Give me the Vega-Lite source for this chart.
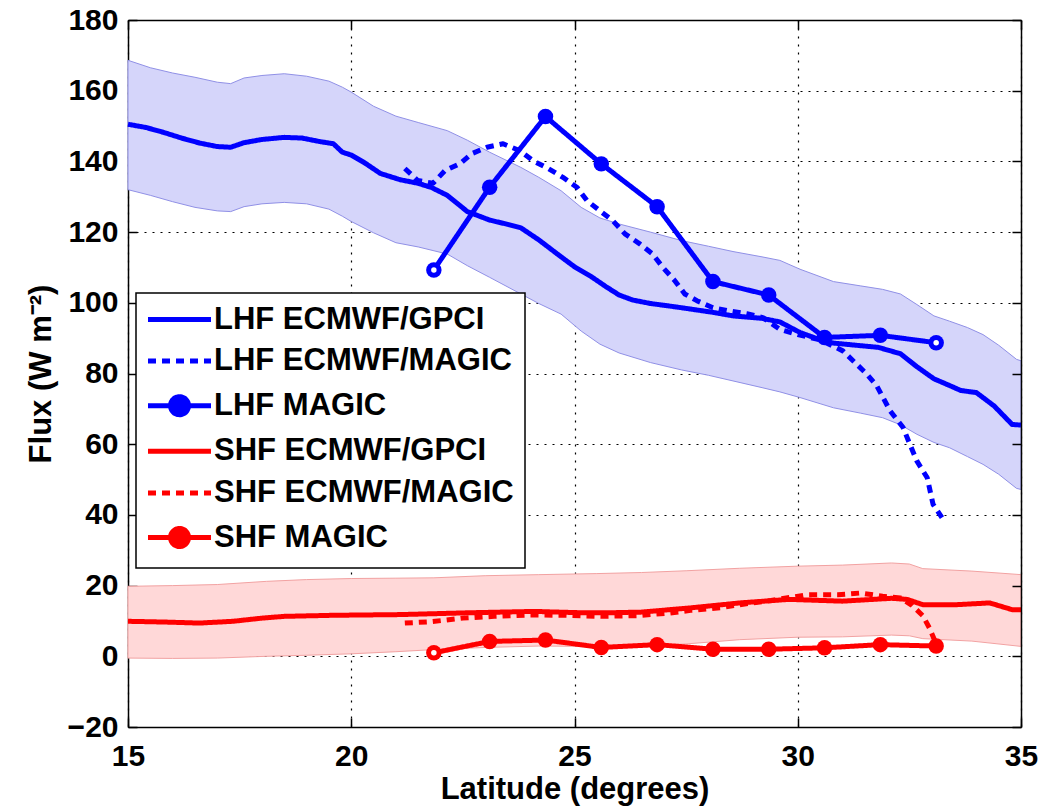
{
  "$schema": "https://vega.github.io/schema/vega-lite/v6.json",
  "width": 893,
  "height": 707,
  "autosize": {"type": "none"},
  "padding": {"left": 128, "top": 20, "right": 22, "bottom": 81},
  "background": "white",
  "config": {
    "view": {"stroke": null},
    "font": "Liberation Sans",
    "axis": {
      "domainColor": "black",
      "domainWidth": 1.5,
      "tickColor": "black",
      "tickWidth": 1.5,
      "tickSize": -9,
      "labelFont": "Liberation Sans",
      "labelFontWeight": "bold",
      "labelFontSize": 30,
      "labelColor": "black",
      "titleFont": "Liberation Sans",
      "titleFontWeight": "bold",
      "titleFontSize": 31,
      "titleColor": "black",
      "gridColor": "black",
      "gridDash": [2, 6],
      "gridWidth": 1.2,
      "gridOpacity": 1,
      "labelOverlap": false,
      "labelFlush": false
    }
  },
  "datasets": {
    "band": [
      {"quantity": "LHF", "lat": 15.0, "lo": 132.0, "hi": 168.6},
      {"quantity": "LHF", "lat": 15.5, "lo": 130.4, "hi": 166.5},
      {"quantity": "LHF", "lat": 16.0, "lo": 128.6, "hi": 165.0},
      {"quantity": "LHF", "lat": 16.5, "lo": 127.0, "hi": 163.8},
      {"quantity": "LHF", "lat": 17.0, "lo": 126.0, "hi": 162.4},
      {"quantity": "LHF", "lat": 17.3, "lo": 125.8, "hi": 162.0},
      {"quantity": "LHF", "lat": 17.6, "lo": 127.2, "hi": 163.6},
      {"quantity": "LHF", "lat": 18.0, "lo": 128.0, "hi": 164.3},
      {"quantity": "LHF", "lat": 18.5, "lo": 128.4, "hi": 164.8},
      {"quantity": "LHF", "lat": 19.0, "lo": 128.0, "hi": 164.1},
      {"quantity": "LHF", "lat": 19.5, "lo": 126.5, "hi": 162.7},
      {"quantity": "LHF", "lat": 19.8, "lo": 124.5, "hi": 161.0},
      {"quantity": "LHF", "lat": 20.0, "lo": 123.0, "hi": 159.6},
      {"quantity": "LHF", "lat": 20.5, "lo": 119.8, "hi": 155.6},
      {"quantity": "LHF", "lat": 21.0, "lo": 117.0, "hi": 152.8},
      {"quantity": "LHF", "lat": 21.5, "lo": 115.8, "hi": 151.0},
      {"quantity": "LHF", "lat": 22.15, "lo": 113.8, "hi": 148.7},
      {"quantity": "LHF", "lat": 22.6, "lo": 110.5, "hi": 146.0},
      {"quantity": "LHF", "lat": 23.1, "lo": 107.2, "hi": 142.6},
      {"quantity": "LHF", "lat": 23.8, "lo": 102.5, "hi": 138.3},
      {"quantity": "LHF", "lat": 24.2, "lo": 99.8, "hi": 135.5},
      {"quantity": "LHF", "lat": 24.7, "lo": 96.8, "hi": 131.7},
      {"quantity": "LHF", "lat": 25.15, "lo": 92.0, "hi": 127.0},
      {"quantity": "LHF", "lat": 25.57, "lo": 88.3, "hi": 124.0},
      {"quantity": "LHF", "lat": 26.0, "lo": 85.8, "hi": 122.3},
      {"quantity": "LHF", "lat": 26.7, "lo": 83.1, "hi": 120.0},
      {"quantity": "LHF", "lat": 27.4, "lo": 81.0, "hi": 117.6},
      {"quantity": "LHF", "lat": 28.0, "lo": 79.5, "hi": 116.0},
      {"quantity": "LHF", "lat": 28.55, "lo": 77.9, "hi": 114.5},
      {"quantity": "LHF", "lat": 29.2, "lo": 76.0, "hi": 113.0},
      {"quantity": "LHF", "lat": 29.6, "lo": 74.8, "hi": 112.0},
      {"quantity": "LHF", "lat": 30.05, "lo": 73.2, "hi": 109.5},
      {"quantity": "LHF", "lat": 30.8, "lo": 70.3, "hi": 106.0},
      {"quantity": "LHF", "lat": 31.4, "lo": 68.8, "hi": 104.8},
      {"quantity": "LHF", "lat": 31.9, "lo": 67.5, "hi": 103.8},
      {"quantity": "LHF", "lat": 32.3, "lo": 65.5, "hi": 102.5},
      {"quantity": "LHF", "lat": 32.67, "lo": 62.8, "hi": 99.5},
      {"quantity": "LHF", "lat": 33.05, "lo": 60.5, "hi": 96.3},
      {"quantity": "LHF", "lat": 33.4, "lo": 59.0, "hi": 94.8},
      {"quantity": "LHF", "lat": 33.8, "lo": 56.5, "hi": 93.0},
      {"quantity": "LHF", "lat": 34.15, "lo": 54.3, "hi": 91.0},
      {"quantity": "LHF", "lat": 34.5, "lo": 51.5, "hi": 88.0},
      {"quantity": "LHF", "lat": 34.9, "lo": 47.5, "hi": 84.0},
      {"quantity": "LHF", "lat": 35.0, "lo": 47.2, "hi": 83.6},
      {"quantity": "SHF", "lat": 15.0, "lo": -0.5, "hi": 19.8},
      {"quantity": "SHF", "lat": 16.0, "lo": -0.6, "hi": 20.0},
      {"quantity": "SHF", "lat": 17.0, "lo": -0.5, "hi": 20.3},
      {"quantity": "SHF", "lat": 18.1, "lo": 0.0, "hi": 21.2},
      {"quantity": "SHF", "lat": 19.0, "lo": 0.3, "hi": 21.7},
      {"quantity": "SHF", "lat": 20.0, "lo": 0.7, "hi": 22.0},
      {"quantity": "SHF", "lat": 21.0, "lo": 1.3, "hi": 22.1},
      {"quantity": "SHF", "lat": 21.85, "lo": 1.9, "hi": 22.2},
      {"quantity": "SHF", "lat": 23.0, "lo": 2.5, "hi": 22.8},
      {"quantity": "SHF", "lat": 24.2, "lo": 2.9, "hi": 23.1},
      {"quantity": "SHF", "lat": 25.5, "lo": 2.8, "hi": 23.4},
      {"quantity": "SHF", "lat": 26.5, "lo": 2.9, "hi": 23.7},
      {"quantity": "SHF", "lat": 27.5, "lo": 3.5, "hi": 24.2},
      {"quantity": "SHF", "lat": 28.7, "lo": 4.7, "hi": 24.9},
      {"quantity": "SHF", "lat": 30.0, "lo": 5.4, "hi": 25.5},
      {"quantity": "SHF", "lat": 31.0, "lo": 5.5, "hi": 25.8},
      {"quantity": "SHF", "lat": 32.1, "lo": 6.0, "hi": 26.4},
      {"quantity": "SHF", "lat": 32.5, "lo": 5.8, "hi": 26.1},
      {"quantity": "SHF", "lat": 32.8, "lo": 5.0, "hi": 24.8},
      {"quantity": "SHF", "lat": 33.9, "lo": 4.3, "hi": 24.1},
      {"quantity": "SHF", "lat": 35.0, "lo": 2.8, "hi": 23.1}
    ],
    "curves": [
      {"series": "LHF ECMWF/GPCI", "lat": 15.0, "flux": 150.5},
      {"series": "LHF ECMWF/GPCI", "lat": 15.4, "flux": 149.6},
      {"series": "LHF ECMWF/GPCI", "lat": 15.8, "flux": 148.2},
      {"series": "LHF ECMWF/GPCI", "lat": 16.2, "flux": 146.6},
      {"series": "LHF ECMWF/GPCI", "lat": 16.6, "flux": 145.2},
      {"series": "LHF ECMWF/GPCI", "lat": 17.0, "flux": 144.2},
      {"series": "LHF ECMWF/GPCI", "lat": 17.3, "flux": 144.0},
      {"series": "LHF ECMWF/GPCI", "lat": 17.6, "flux": 145.3},
      {"series": "LHF ECMWF/GPCI", "lat": 18.0, "flux": 146.2},
      {"series": "LHF ECMWF/GPCI", "lat": 18.5, "flux": 146.8},
      {"series": "LHF ECMWF/GPCI", "lat": 18.9, "flux": 146.6},
      {"series": "LHF ECMWF/GPCI", "lat": 19.3, "flux": 145.6},
      {"series": "LHF ECMWF/GPCI", "lat": 19.6, "flux": 145.0},
      {"series": "LHF ECMWF/GPCI", "lat": 19.8, "flux": 142.6},
      {"series": "LHF ECMWF/GPCI", "lat": 20.0, "flux": 141.8},
      {"series": "LHF ECMWF/GPCI", "lat": 20.3, "flux": 139.6},
      {"series": "LHF ECMWF/GPCI", "lat": 20.65, "flux": 136.6},
      {"series": "LHF ECMWF/GPCI", "lat": 21.1, "flux": 134.8},
      {"series": "LHF ECMWF/GPCI", "lat": 21.5, "flux": 133.8},
      {"series": "LHF ECMWF/GPCI", "lat": 21.8, "flux": 132.6},
      {"series": "LHF ECMWF/GPCI", "lat": 22.15, "flux": 130.4},
      {"series": "LHF ECMWF/GPCI", "lat": 22.6, "flux": 125.8},
      {"series": "LHF ECMWF/GPCI", "lat": 23.1, "flux": 123.4},
      {"series": "LHF ECMWF/GPCI", "lat": 23.5, "flux": 122.2},
      {"series": "LHF ECMWF/GPCI", "lat": 23.8, "flux": 121.2},
      {"series": "LHF ECMWF/GPCI", "lat": 24.2, "flux": 117.8},
      {"series": "LHF ECMWF/GPCI", "lat": 24.7, "flux": 113.0},
      {"series": "LHF ECMWF/GPCI", "lat": 25.0, "flux": 110.2},
      {"series": "LHF ECMWF/GPCI", "lat": 25.4, "flux": 107.2},
      {"series": "LHF ECMWF/GPCI", "lat": 25.7, "flux": 104.6},
      {"series": "LHF ECMWF/GPCI", "lat": 26.0, "flux": 102.2},
      {"series": "LHF ECMWF/GPCI", "lat": 26.3, "flux": 100.8},
      {"series": "LHF ECMWF/GPCI", "lat": 26.7, "flux": 99.8},
      {"series": "LHF ECMWF/GPCI", "lat": 27.0, "flux": 99.3},
      {"series": "LHF ECMWF/GPCI", "lat": 27.4, "flux": 98.6},
      {"series": "LHF ECMWF/GPCI", "lat": 28.1, "flux": 97.3},
      {"series": "LHF ECMWF/GPCI", "lat": 28.55, "flux": 96.3},
      {"series": "LHF ECMWF/GPCI", "lat": 29.2, "flux": 95.6},
      {"series": "LHF ECMWF/GPCI", "lat": 29.6, "flux": 94.6},
      {"series": "LHF ECMWF/GPCI", "lat": 30.05, "flux": 91.6},
      {"series": "LHF ECMWF/GPCI", "lat": 30.4, "flux": 90.0},
      {"series": "LHF ECMWF/GPCI", "lat": 30.8, "flux": 88.6},
      {"series": "LHF ECMWF/GPCI", "lat": 31.3, "flux": 88.0},
      {"series": "LHF ECMWF/GPCI", "lat": 31.8, "flux": 87.4},
      {"series": "LHF ECMWF/GPCI", "lat": 32.3, "flux": 85.6},
      {"series": "LHF ECMWF/GPCI", "lat": 32.67, "flux": 81.9},
      {"series": "LHF ECMWF/GPCI", "lat": 33.05, "flux": 78.5},
      {"series": "LHF ECMWF/GPCI", "lat": 33.4, "flux": 76.6},
      {"series": "LHF ECMWF/GPCI", "lat": 33.65, "flux": 75.2},
      {"series": "LHF ECMWF/GPCI", "lat": 34.0, "flux": 74.6},
      {"series": "LHF ECMWF/GPCI", "lat": 34.4, "flux": 70.8},
      {"series": "LHF ECMWF/GPCI", "lat": 34.8, "flux": 65.6},
      {"series": "LHF ECMWF/GPCI", "lat": 35.0, "flux": 65.4},
      {"series": "LHF ECMWF/MAGIC", "lat": 21.2, "flux": 138.0},
      {"series": "LHF ECMWF/MAGIC", "lat": 21.49, "flux": 134.6},
      {"series": "LHF ECMWF/MAGIC", "lat": 21.83, "flux": 133.8},
      {"series": "LHF ECMWF/MAGIC", "lat": 22.1, "flux": 137.4},
      {"series": "LHF ECMWF/MAGIC", "lat": 22.44, "flux": 139.4},
      {"series": "LHF ECMWF/MAGIC", "lat": 22.7, "flux": 142.2},
      {"series": "LHF ECMWF/MAGIC", "lat": 23.04, "flux": 144.0},
      {"series": "LHF ECMWF/MAGIC", "lat": 23.4, "flux": 145.0},
      {"series": "LHF ECMWF/MAGIC", "lat": 23.78, "flux": 143.0},
      {"series": "LHF ECMWF/MAGIC", "lat": 24.07, "flux": 140.2},
      {"series": "LHF ECMWF/MAGIC", "lat": 24.41, "flux": 138.0},
      {"series": "LHF ECMWF/MAGIC", "lat": 24.74, "flux": 135.5},
      {"series": "LHF ECMWF/MAGIC", "lat": 25.06, "flux": 132.6},
      {"series": "LHF ECMWF/MAGIC", "lat": 25.28, "flux": 128.9},
      {"series": "LHF ECMWF/MAGIC", "lat": 25.57, "flux": 126.0},
      {"series": "LHF ECMWF/MAGIC", "lat": 25.86, "flux": 123.2},
      {"series": "LHF ECMWF/MAGIC", "lat": 26.13, "flux": 119.5},
      {"series": "LHF ECMWF/MAGIC", "lat": 26.47, "flux": 116.6},
      {"series": "LHF ECMWF/MAGIC", "lat": 26.74, "flux": 113.9},
      {"series": "LHF ECMWF/MAGIC", "lat": 26.98, "flux": 110.0},
      {"series": "LHF ECMWF/MAGIC", "lat": 27.25, "flux": 106.2},
      {"series": "LHF ECMWF/MAGIC", "lat": 27.47, "flux": 102.5},
      {"series": "LHF ECMWF/MAGIC", "lat": 27.74, "flux": 100.6},
      {"series": "LHF ECMWF/MAGIC", "lat": 28.1, "flux": 98.6},
      {"series": "LHF ECMWF/MAGIC", "lat": 28.48, "flux": 97.7},
      {"series": "LHF ECMWF/MAGIC", "lat": 28.86, "flux": 96.9},
      {"series": "LHF ECMWF/MAGIC", "lat": 29.22, "flux": 95.8},
      {"series": "LHF ECMWF/MAGIC", "lat": 29.6, "flux": 92.5},
      {"series": "LHF ECMWF/MAGIC", "lat": 30.0, "flux": 91.0},
      {"series": "LHF ECMWF/MAGIC", "lat": 30.5, "flux": 89.5},
      {"series": "LHF ECMWF/MAGIC", "lat": 31.01, "flux": 86.4},
      {"series": "LHF ECMWF/MAGIC", "lat": 31.55, "flux": 79.8},
      {"series": "LHF ECMWF/MAGIC", "lat": 31.77, "flux": 76.5},
      {"series": "LHF ECMWF/MAGIC", "lat": 32.07, "flux": 69.4},
      {"series": "LHF ECMWF/MAGIC", "lat": 32.36, "flux": 64.7},
      {"series": "LHF ECMWF/MAGIC", "lat": 32.51, "flux": 60.0},
      {"series": "LHF ECMWF/MAGIC", "lat": 32.67, "flux": 55.2},
      {"series": "LHF ECMWF/MAGIC", "lat": 32.9, "flux": 50.5},
      {"series": "LHF ECMWF/MAGIC", "lat": 33.03, "flux": 43.0},
      {"series": "LHF ECMWF/MAGIC", "lat": 33.23, "flux": 39.2},
      {"series": "LHF MAGIC", "lat": 21.85, "flux": 109.3},
      {"series": "LHF MAGIC", "lat": 23.1, "flux": 132.7},
      {"series": "LHF MAGIC", "lat": 24.35, "flux": 152.7},
      {"series": "LHF MAGIC", "lat": 25.6, "flux": 139.3},
      {"series": "LHF MAGIC", "lat": 26.85, "flux": 127.2},
      {"series": "LHF MAGIC", "lat": 28.1, "flux": 106.0},
      {"series": "LHF MAGIC", "lat": 29.35, "flux": 102.2},
      {"series": "LHF MAGIC", "lat": 30.6, "flux": 90.2},
      {"series": "LHF MAGIC", "lat": 31.85, "flux": 90.8},
      {"series": "LHF MAGIC", "lat": 33.1, "flux": 88.7},
      {"series": "SHF ECMWF/GPCI", "lat": 15.0, "flux": 9.9},
      {"series": "SHF ECMWF/GPCI", "lat": 15.8, "flux": 9.7},
      {"series": "SHF ECMWF/GPCI", "lat": 16.6, "flux": 9.4},
      {"series": "SHF ECMWF/GPCI", "lat": 17.35, "flux": 9.9},
      {"series": "SHF ECMWF/GPCI", "lat": 18.0, "flux": 10.8},
      {"series": "SHF ECMWF/GPCI", "lat": 18.5, "flux": 11.3},
      {"series": "SHF ECMWF/GPCI", "lat": 19.6, "flux": 11.6},
      {"series": "SHF ECMWF/GPCI", "lat": 21.1, "flux": 11.8},
      {"series": "SHF ECMWF/GPCI", "lat": 22.6, "flux": 12.3},
      {"series": "SHF ECMWF/GPCI", "lat": 24.1, "flux": 12.7},
      {"series": "SHF ECMWF/GPCI", "lat": 25.2, "flux": 12.3},
      {"series": "SHF ECMWF/GPCI", "lat": 25.7, "flux": 12.3},
      {"series": "SHF ECMWF/GPCI", "lat": 26.5, "flux": 12.5},
      {"series": "SHF ECMWF/GPCI", "lat": 27.6, "flux": 13.7},
      {"series": "SHF ECMWF/GPCI", "lat": 28.7, "flux": 15.1},
      {"series": "SHF ECMWF/GPCI", "lat": 29.8, "flux": 16.1},
      {"series": "SHF ECMWF/GPCI", "lat": 31.0, "flux": 15.6},
      {"series": "SHF ECMWF/GPCI", "lat": 32.1, "flux": 16.4},
      {"series": "SHF ECMWF/GPCI", "lat": 32.45, "flux": 16.1},
      {"series": "SHF ECMWF/GPCI", "lat": 32.8, "flux": 14.6},
      {"series": "SHF ECMWF/GPCI", "lat": 33.55, "flux": 14.6},
      {"series": "SHF ECMWF/GPCI", "lat": 34.3, "flux": 15.1},
      {"series": "SHF ECMWF/GPCI", "lat": 34.8, "flux": 13.2},
      {"series": "SHF ECMWF/GPCI", "lat": 35.0, "flux": 13.2},
      {"series": "SHF ECMWF/MAGIC", "lat": 21.2, "flux": 9.4},
      {"series": "SHF ECMWF/MAGIC", "lat": 21.8, "flux": 9.8},
      {"series": "SHF ECMWF/MAGIC", "lat": 22.5, "flux": 10.8},
      {"series": "SHF ECMWF/MAGIC", "lat": 23.2, "flux": 11.3},
      {"series": "SHF ECMWF/MAGIC", "lat": 24.0, "flux": 11.7},
      {"series": "SHF ECMWF/MAGIC", "lat": 24.8, "flux": 11.6},
      {"series": "SHF ECMWF/MAGIC", "lat": 25.6, "flux": 11.3},
      {"series": "SHF ECMWF/MAGIC", "lat": 26.4, "flux": 11.5},
      {"series": "SHF ECMWF/MAGIC", "lat": 27.1, "flux": 12.2},
      {"series": "SHF ECMWF/MAGIC", "lat": 27.6, "flux": 13.0},
      {"series": "SHF ECMWF/MAGIC", "lat": 28.3, "flux": 13.8},
      {"series": "SHF ECMWF/MAGIC", "lat": 28.7, "flux": 14.6},
      {"series": "SHF ECMWF/MAGIC", "lat": 29.4, "flux": 15.8},
      {"series": "SHF ECMWF/MAGIC", "lat": 30.2, "flux": 17.4},
      {"series": "SHF ECMWF/MAGIC", "lat": 30.9, "flux": 17.4},
      {"series": "SHF ECMWF/MAGIC", "lat": 31.4, "flux": 17.9},
      {"series": "SHF ECMWF/MAGIC", "lat": 31.9, "flux": 17.0},
      {"series": "SHF ECMWF/MAGIC", "lat": 32.3, "flux": 16.5},
      {"series": "SHF ECMWF/MAGIC", "lat": 32.55, "flux": 14.5},
      {"series": "SHF ECMWF/MAGIC", "lat": 32.8, "flux": 11.5},
      {"series": "SHF ECMWF/MAGIC", "lat": 32.95, "flux": 8.0},
      {"series": "SHF ECMWF/MAGIC", "lat": 33.1, "flux": 3.5},
      {"series": "SHF MAGIC", "lat": 21.85, "flux": 1.0},
      {"series": "SHF MAGIC", "lat": 23.1, "flux": 4.2},
      {"series": "SHF MAGIC", "lat": 24.35, "flux": 4.6},
      {"series": "SHF MAGIC", "lat": 25.6, "flux": 2.5},
      {"series": "SHF MAGIC", "lat": 26.85, "flux": 3.3},
      {"series": "SHF MAGIC", "lat": 28.1, "flux": 2.0},
      {"series": "SHF MAGIC", "lat": 29.35, "flux": 2.0},
      {"series": "SHF MAGIC", "lat": 30.6, "flux": 2.4},
      {"series": "SHF MAGIC", "lat": 31.85, "flux": 3.3},
      {"series": "SHF MAGIC", "lat": 33.1, "flux": 2.9}
    ]
  },
  "layer": [
    {
      "data": {"name": "band"},
      "transform": [{"filter": "datum.quantity === 'LHF'"}],
      "mark": {"type": "area", "fill": "#d5d5fa", "stroke": "#9090e6", "strokeWidth": 1, "opacity": 1},
      "encoding": {
        "x": {"field": "lat", "type": "quantitative", "scale": {"domain": [15, 35], "nice": false, "zero": false}, "axis": null},
        "y": {"field": "lo", "type": "quantitative", "scale": {"domain": [-20, 180], "nice": false, "zero": false}, "axis": null},
        "y2": {"field": "hi"}
      }
    },
    {
      "data": {"name": "band"},
      "transform": [{"filter": "datum.quantity === 'SHF'"}],
      "mark": {"type": "area", "fill": "#ffd8d8", "stroke": "#f2a2a2", "strokeWidth": 1, "opacity": 1},
      "encoding": {
        "x": {"field": "lat", "type": "quantitative", "axis": null},
        "y": {"field": "lo", "type": "quantitative", "axis": null},
        "y2": {"field": "hi"}
      }
    },
    {
      "data": {"name": "curves"},
      "mark": {"type": "line", "strokeWidth": 5, "strokeJoin": "round"},
      "encoding": {
        "x": {
          "field": "lat", "type": "quantitative",
          "axis": {
            "orient": "bottom", "values": [15, 20, 25, 30, 35], "grid": true,
            "labelPadding": 23, "title": "Latitude (degrees)",
            "titleY": 71, "titleBaseline": "alphabetic", "zindex": 0
          }
        },
        "y": {
          "field": "flux", "type": "quantitative",
          "axis": {
            "orient": "left", "values": [-20, 0, 20, 40, 60, 80, 100, 120, 140, 160, 180], "grid": true,
            "labelPadding": 19, "title": "Flux (W m⁻²)",
            "titleX": -78, "titleBaseline": "alphabetic", "zindex": 0
          }
        },
        "color": {
          "field": "series", "type": "nominal",
          "scale": {
            "domain": ["LHF ECMWF/GPCI", "LHF ECMWF/MAGIC", "LHF MAGIC", "SHF ECMWF/GPCI", "SHF ECMWF/MAGIC", "SHF MAGIC"],
            "range": ["#0000ff", "#0000ff", "#0000ff", "#ff0000", "#ff0000", "#ff0000"]
          },
          "legend": {
            "orient": "none", "legendX": 8, "legendY": 273, "title": null,
            "strokeColor": "black", "fillColor": "white", "padding": 11,
            "labelFont": "Liberation Sans", "labelFontWeight": "bold", "labelFontSize": 31, "labelColor": "black",
            "labelLimit": 500, "symbolSize": 400, "symbolStrokeWidth": 5, "symbolOffset": 17,
            "labelOffset": 19, "rowPadding": 9.6,
            "encode": {
              "symbols": {
                "update": {
                  "shape": {"signal": "indexof(['LHF MAGIC','SHF MAGIC'], datum.value) >= 0 ? 'M-3.15,0L3.15,0M-0.9,0A0.9,0.9,0,1,0,0.9,0A0.9,0.9,0,1,0,-0.9,0Z' : 'M-3.15,0L3.15,0'"},
                  "fill": {"signal": "indexof(datum.value, 'LHF') === 0 ? '#0000ff' : '#ff0000'"},
                  "stroke": {"signal": "indexof(datum.value, 'LHF') === 0 ? '#0000ff' : '#ff0000'"},
                  "strokeDash": {"signal": "indexof(datum.value, 'ECMWF/MAGIC') >= 0 ? [8, 6] : [1, 0]"},
                  "fillOpacity": {"value": 1},
                  "strokeOpacity": {"value": 1},
                  "opacity": {"value": 1}
                }
              },
              "legend": {"update": {"strokeWidth": {"value": 1.5}}}
            }
          }
        },
        "strokeDash": {
          "field": "series", "type": "nominal",
          "scale": {
            "domain": ["LHF ECMWF/GPCI", "LHF ECMWF/MAGIC", "LHF MAGIC", "SHF ECMWF/GPCI", "SHF ECMWF/MAGIC", "SHF MAGIC"],
            "range": [[1, 0], [8, 6], [1, 0], [1, 0], [8, 6], [1, 0]]
          },
          "legend": null
        }
      }
    },
    {
      "data": {"name": "curves"},
      "transform": [{"filter": "datum.series === 'LHF MAGIC' || datum.series === 'SHF MAGIC'"}],
      "mark": {"type": "point", "filled": true, "size": 240, "opacity": 1, "strokeWidth": 0},
      "encoding": {
        "x": {"field": "lat", "type": "quantitative", "axis": null},
        "y": {"field": "flux", "type": "quantitative", "axis": null},
        "color": {"field": "series", "type": "nominal"}
      }
    },
    {
      "data": {"name": "curves"},
      "transform": [{"filter": "(datum.series === 'LHF MAGIC' && (datum.lat === 21.85 || datum.lat === 33.1)) || (datum.series === 'SHF MAGIC' && datum.lat === 21.85)"}],
      "mark": {"type": "point", "filled": true, "size": 30, "opacity": 1, "strokeWidth": 0, "color": "white"},
      "encoding": {
        "x": {
          "field": "lat", "type": "quantitative",
          "axis": {"orient": "top", "values": [15, 20, 25, 30, 35], "labels": false, "title": null, "grid": false, "zindex": 1}
        },
        "y": {
          "field": "flux", "type": "quantitative",
          "axis": {"orient": "right", "values": [-20, 0, 20, 40, 60, 80, 100, 120, 140, 160, 180], "labels": false, "title": null, "grid": false, "zindex": 1}
        }
      }
    }
  ],
  "resolve": {"axis": {"x": "independent", "y": "independent"}}
}
